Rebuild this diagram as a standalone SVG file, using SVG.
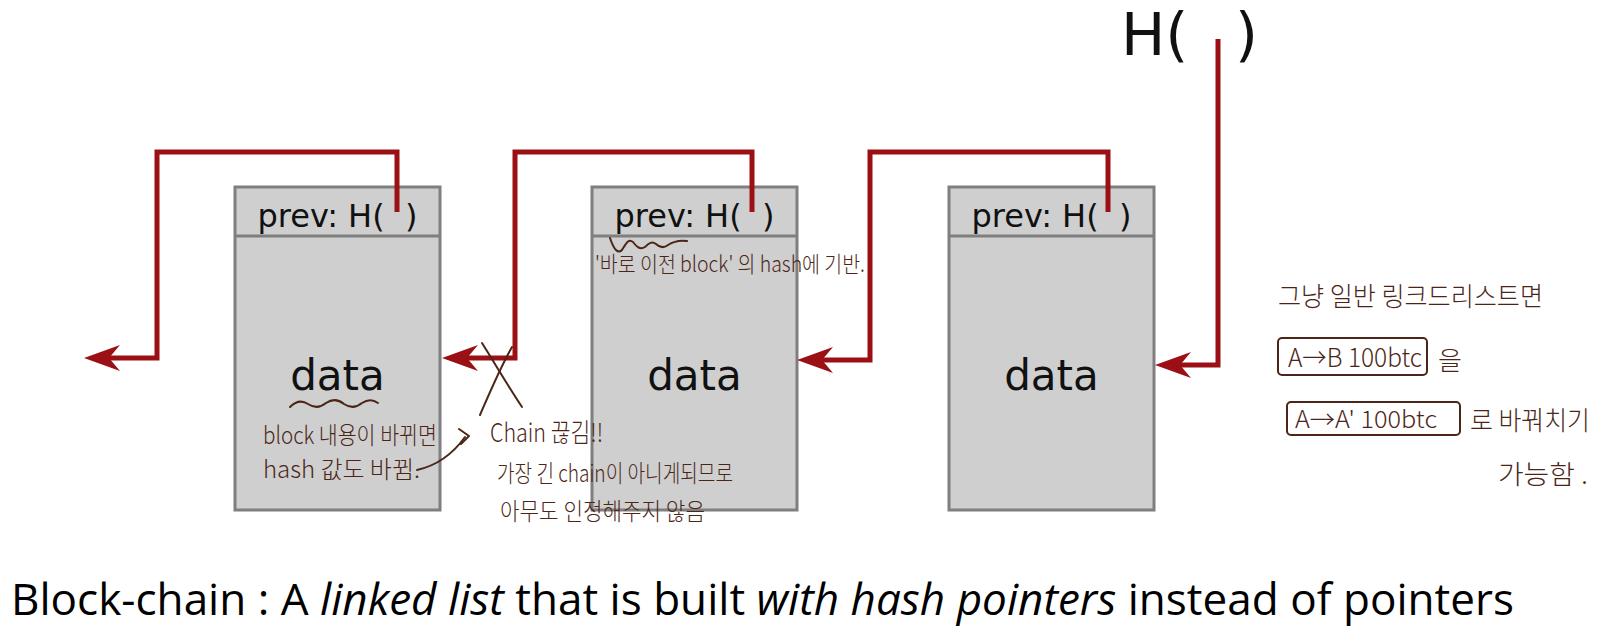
<svg xmlns="http://www.w3.org/2000/svg" width="1604" height="629" viewBox="0 0 1604 629">
  <style>
    .box{fill:#cfcfcf;stroke:#7f7f7f;stroke-width:3}
    .sep{stroke:#7f7f7f;stroke-width:3}
    .hdr{font-family:"DejaVu Sans",Verdana,sans-serif;font-size:32px;fill:#111;text-anchor:middle}
    .dat{font-family:"DejaVu Sans",Verdana,sans-serif;font-size:42px;fill:#111;text-anchor:middle}
    .ptr{fill:none;stroke:#9b1014;stroke-width:5;stroke-linejoin:miter;marker-end:url(#ah)}
    .hw{font-family:"Noto Sans CJK KR","Noto Sans",sans-serif;font-weight:300;fill:#4b2618}
    .ink{fill:none;stroke:#4b2618;stroke-width:2;stroke-linecap:round;stroke-linejoin:round}
    .cap{font-family:"Open Sans","Noto Sans",sans-serif;font-size:44px;fill:#000}
  </style>
  <defs>
    <marker id="ah" markerUnits="userSpaceOnUse" markerWidth="40" markerHeight="30" refX="16" refY="13" orient="auto" overflow="visible">
      <path d="M36,13 L0,0 L11,13 L0,26 Z" fill="#9b1014"/>
    </marker>
  </defs>
  <rect width="1604" height="629" fill="#fff"/>

  <g id="block1">
    <rect class="box" x="235" y="187" width="205" height="323"/>
    <line class="sep" x1="235" y1="236" x2="440" y2="236"/>
    <text class="hdr" x="337.5" y="227">prev: H(&#160;&#160;)</text>
    <text class="dat" x="337.5" y="390">data</text>
  </g>
  <g id="block2">
    <rect class="box" x="592" y="187" width="205" height="323"/>
    <line class="sep" x1="592" y1="236" x2="797" y2="236"/>
    <text class="hdr" x="694.5" y="227">prev: H(&#160;&#160;)</text>
    <text class="dat" x="694.5" y="390">data</text>
  </g>
  <g id="block3">
    <rect class="box" x="949" y="187" width="205" height="323"/>
    <line class="sep" x1="949" y1="236" x2="1154" y2="236"/>
    <text class="hdr" x="1051.5" y="227">prev: H(&#160;&#160;)</text>
    <text class="dat" x="1051.5" y="390">data</text>
  </g>
  <g id="head-hash">
    <text font-family="DejaVu Sans, Verdana, sans-serif" font-size="59" fill="#111" y="55"><tspan x="1121">H(</tspan><tspan x="1235">)</tspan></text>
  </g>

  <g id="connectors">
    <path class="ptr" d="M397,212 V152 H157 V358 H104"/>
    <path class="ptr" d="M752,212 V152 H515 V358 H462"/>
    <path class="ptr" d="M1108,212 V152 H870 V360 H817"/>
    <path class="ptr" d="M1218,39 V365 H1175"/>
  </g>

  <g id="annotations">
    <path class="ink" d="M610,238 C614,250 618,254 622,250 C626,244 628,238 633,242 C637,247 640,250 645,247 C649,243 652,241 656,244 C660,248 664,248 668,245 C674,241 680,240 687,241"/>
    <text class="hw" x="595" y="272" font-size="22" textLength="270" lengthAdjust="spacingAndGlyphs">'바로 이전 block' 의 hash에 기반.</text>

    <path class="ink" d="M290,407 C296,401 302,400 308,404 C314,408 320,408 326,403 C332,399 338,399 344,404 C350,408 356,408 362,403 C368,399 374,400 378,403"/>
    <text class="hw" x="263" y="444" font-size="24" textLength="174" lengthAdjust="spacingAndGlyphs">block 내용이 바뀌면</text>
    <text class="hw" x="263" y="478" font-size="24" textLength="157" lengthAdjust="spacingAndGlyphs">hash 값도 바뀜.</text>
    <path class="ink" d="M417,470 C435,466 452,455 465,437"/>
    <path class="ink" d="M459,429 L469,436 L461,444"/>

    <path class="ink" d="M482,343 C494,362 508,386 522,407"/>
    <path class="ink" d="M512,347 C500,368 490,392 480,415"/>
    <text class="hw" x="490" y="442" font-size="26" textLength="113" lengthAdjust="spacingAndGlyphs">Chain 끊김!!</text>
    <text class="hw" x="497" y="482" font-size="24" textLength="236" lengthAdjust="spacingAndGlyphs">가장 긴 chain이 아니게되므로</text>
    <text class="hw" x="500" y="520" font-size="24" textLength="205" lengthAdjust="spacingAndGlyphs">아무도 인정해주지 않음</text>

    <text class="hw" x="1278" y="306" font-size="26" textLength="265" lengthAdjust="spacingAndGlyphs">그냥 일반 링크드리스트면</text>
    <rect class="ink" x="1278" y="338" width="149" height="37" rx="4"/>
    <text class="hw" x="1288" y="367" font-size="26" textLength="134" lengthAdjust="spacingAndGlyphs">A→B 100btc</text>
    <text class="hw" x="1438" y="370" font-size="26">을</text>
    <rect class="ink" x="1287" y="402" width="173" height="33" rx="4"/>
    <text class="hw" x="1295" y="428" font-size="24" textLength="142" lengthAdjust="spacingAndGlyphs">A→A' 100btc</text>
    <text class="hw" x="1470" y="430" font-size="26" textLength="120" lengthAdjust="spacingAndGlyphs">로 바꿔치기</text>
    <text class="hw" x="1498" y="484" font-size="26" textLength="90" lengthAdjust="spacingAndGlyphs">가능함 .</text>
  </g>

  <text class="cap" x="11" y="615" textLength="1503" lengthAdjust="spacingAndGlyphs">Block-chain : A <tspan font-style="italic">linked list</tspan> that is built <tspan font-style="italic">with hash pointers</tspan> instead of pointers</text>
</svg>
